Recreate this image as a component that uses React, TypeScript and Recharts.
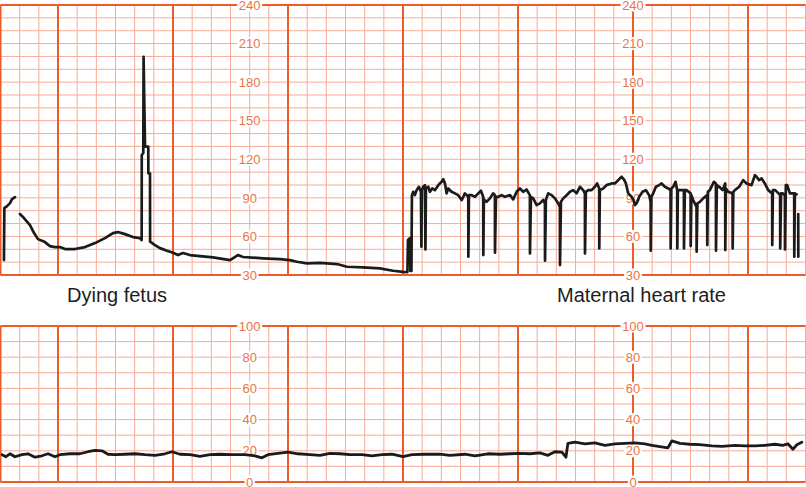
import React from 'react';
import { LineChart, Line, XAxis, YAxis, ReferenceLine, ReferenceDot } from 'recharts';

// time in seconds (one small square = 20 s), values in bpm / mmHg
const fetalTrace: [number, number | null][] = [
  [3.6, 41.6], [4.0, 82.0], [6.8, 83.6], [9.9, 85.9], [12.0, 89.0], [15.1, 90.6], [17.5, null],
  [20.3, 77.4], [24.5, 74.3], [30.8, 68.8], [35.0, 62.6], [39.1, 57.9], [46.4, 55.6], [51.6, 52.5],
  [56.9, 51.7], [62.1, 51.7], [67.3, 50.2], [77.7, 50.2], [88.2, 51.7], [98.6, 54.8], [109.0, 58.7],
  [117.4, 62.6], [122.6, 63.4], [129.9, 61.8], [138.2, 59.5], [145.5, 58.7], [147.3, 57.2],
  [147.4, 123.3], [149.0, 124.9], [149.3, 199.6], [150.8, 129.8], [154.2, 129.8], [154.3, 109.1],
  [156.0, 109.1], [156.1, 55.9], [161.2, 53.3], [166.4, 50.9], [173.7, 48.9], [180.0, 47.3],
  [185.2, 45.5], [190.4, 47.1], [197.7, 45.5], [208.1, 44.7], [221.7, 43.7], [239.5, 41.6],
  [247.8, 45.5], [253.0, 44.0], [273.9, 43.0], [291.6, 42.3], [302.0, 41.6], [309.3, 40.3],
  [319.8, 39.0], [333.3, 39.5], [351.1, 38.5], [361.5, 36.4], [378.2, 35.9], [395.9, 35.2],
  [409.5, 33.3], [420.0, 32.5], [424.6, 32.3],
];

const maternalTrace: [number, number | null][] = [
  [425.2, 57.2], [427.2, 58.7], [427.7, 33.1], [428.8, 33.1], [429.3, 92.1], [430.7, 94.7],
  [432.4, 92.1], [434.2, 96.0], [436.6, 98.6], [438.7, 94.7], [439.2, 52.0], [439.7, 96.0],
  [441.1, 98.6], [442.9, 99.9], [443.4, 49.9], [443.9, 97.3], [446.3, 98.6], [448.1, 94.7],
  [450.5, 97.3], [453.3, 96.0], [456.8, 99.9], [460.3, 102.5], [462.0, 104.6], [463.8, 101.2],
  [465.5, 93.5], [467.2, 97.3], [470.7, 94.7], [474.2, 93.5], [477.6, 92.1], [481.2, 88.3],
  [482.9, 90.8], [484.6, 93.5], [486.4, 92.1], [488.1, 90.8], [488.2, 44.2], [488.8, 92.1],
  [491.6, 92.1], [495.1, 90.8], [498.5, 93.5], [501.3, 95.5], [503.7, 90.8], [503.8, 45.5],
  [504.4, 88.8], [507.2, 86.9], [510.7, 89.6], [514.1, 93.5], [515.9, 92.1], [516.0, 47.3],
  [517.0, 90.8], [519.4, 90.8], [522.9, 92.1], [526.3, 90.8], [531.6, 92.1], [535.0, 88.8],
  [538.6, 94.7], [542.0, 97.3], [545.4, 94.7], [548.9, 96.5], [552.4, 92.1], [552.5, 46.8],
  [553.5, 90.8], [555.9, 89.6], [559.4, 84.4], [562.9, 85.7], [566.3, 88.3], [568.1, 85.7],
  [568.2, 41.1], [569.1, 88.3], [571.5, 93.5], [575.1, 92.1], [578.5, 89.6], [582.0, 85.7],
  [583.7, 83.0], [583.8, 37.7], [584.8, 86.9], [587.2, 89.6], [590.7, 92.1], [594.2, 94.7],
  [597.6, 96.0], [601.1, 93.5], [604.6, 98.6], [608.0, 96.0], [609.8, 93.5], [609.9, 46.8],
  [610.8, 94.7], [613.3, 96.0], [616.8, 96.0], [620.2, 98.6], [622.6, 101.2], [624.7, 97.3],
  [624.8, 50.7], [625.4, 96.0], [628.9, 97.3], [632.4, 99.9], [637.7, 101.2], [641.1, 101.2],
  [644.6, 103.8], [648.1, 106.4], [650.5, 104.3], [652.6, 101.2], [655.0, 93.5], [658.5, 90.8],
  [660.2, 88.8], [662.0, 84.4], [663.7, 85.7], [666.5, 90.8], [670.0, 94.7], [673.5, 96.0],
  [676.9, 92.1], [678.4, 86.9], [678.5, 48.9], [679.2, 90.8], [681.1, 93.5], [683.9, 98.6],
  [687.3, 99.9], [689.8, 101.2], [693.3, 98.6], [696.7, 97.3], [699.2, 96.0], [699.3, 50.7],
  [700.0, 97.3], [701.9, 98.6], [704.4, 102.5], [706.1, 96.0], [706.2, 50.7], [706.8, 96.0],
  [708.9, 96.0], [713.1, 96.0], [713.2, 50.7], [714.1, 96.0], [715.9, 96.0], [720.1, 93.5],
  [720.2, 52.5], [720.9, 92.1], [722.8, 88.3], [726.3, 83.0], [726.4, 48.1], [727.2, 85.7],
  [729.8, 86.9], [733.2, 89.6], [737.4, 92.1], [737.5, 53.3], [738.1, 94.7], [740.2, 96.0],
  [744.4, 102.5], [746.5, 101.2], [746.6, 48.9], [747.5, 99.9], [750.0, 98.6], [753.5, 96.0],
  [756.2, 101.2], [756.3, 49.4], [756.9, 97.3], [759.3, 94.7], [763.9, 93.5], [764.0, 50.7],
  [764.7, 94.7], [766.3, 96.0], [770.8, 98.6], [775.0, 103.8], [778.5, 101.2], [783.7, 99.9],
  [787.2, 107.7], [788.9, 106.4], [791.6, 103.8], [794.2, 105.1], [797.6, 101.2], [801.1, 96.0],
  [805.2, 93.5], [805.3, 53.3], [806.0, 96.0], [808.4, 96.0], [811.8, 93.5], [813.5, 92.1],
  [813.6, 50.7], [814.5, 93.5], [816.1, 93.5], [818.5, 92.1], [818.6, 49.9], [819.5, 99.9],
  [820.9, 99.9], [823.7, 93.5], [828.2, 93.5], [828.3, 44.2], [828.9, 93.5], [830.7, 92.7],
  [831.6, null], [832.4, 77.4], [832.5, 44.2],
];

const tocoTrace: [number, number][] = [
  [1.6, 17.5], [5.7, 16.2], [9.9, 18.1], [15.1, 16.2], [22.4, 17.5], [28.7, 18.1], [36.0, 15.9],
  [43.3, 16.8], [49.6, 18.1], [56.9, 16.2], [62.1, 17.5], [72.5, 18.1], [82.9, 18.1], [91.3, 19.4],
  [98.6, 20.3], [105.9, 20.0], [112.2, 17.8], [119.5, 17.5], [129.9, 17.8], [140.3, 18.1],
  [150.8, 17.5], [161.2, 17.1], [171.6, 18.1], [178.9, 19.4], [187.3, 17.8], [197.7, 17.5],
  [208.1, 16.5], [218.6, 17.5], [229.0, 17.8], [241.5, 17.5], [255.1, 17.5], [265.5, 16.8],
  [272.8, 15.5], [279.1, 17.5], [289.5, 18.4], [300.0, 19.2], [310.4, 18.1], [322.9, 17.5],
  [333.3, 17.1], [343.8, 18.4], [354.2, 18.1], [364.6, 17.5], [377.2, 17.5], [387.6, 16.8],
  [398.0, 17.5], [408.5, 17.8], [420.0, 16.2], [429.3, 17.5], [442.9, 17.8], [458.5, 17.8],
  [469.0, 17.1], [484.6, 17.8], [495.1, 16.8], [508.6, 18.1], [521.1, 17.8], [531.6, 18.1],
  [542.0, 18.4], [552.4, 18.1], [562.9, 18.7], [571.2, 17.1], [578.5, 19.4], [585.8, 19.1],
  [590.0, 15.9], [592.1, 24.8], [599.4, 25.5], [609.8, 24.5], [620.2, 25.1], [630.7, 23.5],
  [641.1, 24.5], [651.6, 24.8], [662.0, 25.1], [672.4, 24.5], [679.7, 23.5], [696.4, 21.9],
  [700.6, 26.4], [709.0, 24.8], [719.4, 24.2], [729.8, 23.9], [742.3, 23.2], [752.8, 22.9],
  [766.3, 23.5], [776.7, 23.2], [787.2, 23.2], [797.6, 23.5], [808.0, 24.2], [816.4, 23.5],
  [821.6, 24.5], [826.9, 21.0], [831.0, 23.9], [836.2, 25.5],
];

const minorTimes = Array.from({ length: 43 }, (_, i) => i * 20);
const majorTimes = [0, 60, 180, 300, 420, 540, 660, 780];
const labelTimes = [260, 660];
const hrGrid = Array.from({ length: 22 }, (_, i) => 30 + i * 10);
const hrLabels = [240, 210, 180, 150, 120, 90, 60, 30];
const hrBorders = [30, 240];
const uaGrid = Array.from({ length: 11 }, (_, i) => i * 10);
const uaLabels = [100, 80, 60, 40, 20, 0];
const uaBorders = [0, 100];

const THIN = '#f8ab95';
const THICK = '#ee5b2b';
const LABEL = '#ea7446';
const TRACE = '#1b1b1b';
const FONT = '"Liberation Sans", Arial, Helvetica, sans-serif';

const hrData = [...fetalTrace, ...maternalTrace].map(([t, v]) => ({ t, v }));
const uaData = tocoTrace.map(([t, v]) => ({ t, v }));

function TickLabel(props: any) {
  const { cx, cy, label } = props;
  if (cx == null || cy == null) return null;
  const s = String(label);
  const w = s.length * 7.3 + 3;
  return (
    <g>
      <rect x={cx - w / 2} y={cy - 6.5} width={w} height={13} fill="#ffffff" />
      <text x={cx} y={cy} dy="0.36em" textAnchor="middle" fontSize={13} fontFamily={FONT} fill={LABEL}>
        {s}
      </text>
    </g>
  );
}

function gridElements(hGrid: number[], hBorders: number[], labels: number[], prefix: string) {
  const els: React.ReactNode[] = [];
  hGrid.forEach((v) => {
    els.push(<ReferenceLine key={`${prefix}h${v}`} y={v} stroke={THIN} strokeWidth={1} ifOverflow="visible" />);
  });
  minorTimes.forEach((t) => {
    els.push(<ReferenceLine key={`${prefix}v${t}`} x={t} stroke={THIN} strokeWidth={1} ifOverflow="visible" />);
  });
  majorTimes.forEach((t) => {
    els.push(<ReferenceLine key={`${prefix}V${t}`} x={t} stroke={THICK} strokeWidth={2} ifOverflow="visible" />);
  });
  hBorders.forEach((v) => {
    els.push(<ReferenceLine key={`${prefix}H${v}`} y={v} stroke={THICK} strokeWidth={2} ifOverflow="visible" />);
  });
  labelTimes.forEach((t) => {
    labels.forEach((v) => {
      els.push(
        <ReferenceDot
          key={`${prefix}l${t}-${v}`}
          x={t}
          y={v}
          r={0}
          ifOverflow="visible"
          shape={(p: any) => <TickLabel {...p} label={v} />}
        />
      );
    });
  });
  return els;
}

type PanelProps = {
  top: number;
  height: number;
  margin: { top: number; right: number; bottom: number; left: number };
  data: { t: number; v: number | null }[];
  domain: [number, number];
  hGrid: number[];
  hBorders: number[];
  labels: number[];
  prefix: string;
  strokeWidth: number;
};

function Panel({ top, height, margin, data, domain, hGrid, hBorders, labels, prefix, strokeWidth }: PanelProps) {
  return (
    <>
      <div style={{ position: 'absolute', left: 0, top }}>
        <LineChart width={806} height={height} data={data} margin={margin}>
          <XAxis type="number" dataKey="t" domain={[0, 840]} hide allowDataOverflow />
          <YAxis type="number" domain={domain} hide allowDataOverflow />
          {gridElements(hGrid, hBorders, labels, prefix)}
        </LineChart>
      </div>
      <div style={{ position: 'absolute', left: 0, top }}>
        <LineChart width={806} height={height} data={data} margin={margin}>
          <XAxis type="number" dataKey="t" domain={[0, 840]} hide allowDataOverflow />
          <YAxis type="number" domain={domain} hide allowDataOverflow />
          <Line
            type="linear"
            dataKey="v"
            stroke={TRACE}
            strokeWidth={strokeWidth}
            dot={false}
            activeDot={false}
            isAnimationActive={false}
            strokeLinejoin="round"
            strokeLinecap="round"
          />
        </LineChart>
      </div>
    </>
  );
}

export default function App() {
  return (
    <div style={{ position: 'absolute', left: 0, top: 0, width: 806, height: 487, background: '#fff', overflow: 'hidden' }}>
      <Panel
        top={0}
        height={282}
        margin={{ top: 5, right: 0.5, bottom: 7, left: 0.5 }}
        data={hrData}
        domain={[30, 240]}
        hGrid={hrGrid}
        hBorders={hrBorders}
        labels={hrLabels}
        prefix="hr"
        strokeWidth={2.7}
      />
      <Panel
        top={312}
        height={175}
        margin={{ top: 14, right: 0.5, bottom: 5, left: 0.5 }}
        data={uaData}
        domain={[0, 100]}
        hGrid={uaGrid}
        hBorders={uaBorders}
        labels={uaLabels}
        prefix="ua"
        strokeWidth={2.8}
      />
      <svg style={{ position: 'absolute', left: 0, top: 280 }} width={806} height={32}>
        <text x={67} y={22} fontSize={20} fontFamily={FONT} fill="#1e1e1e">Dying fetus</text>
        <text x={557} y={22} fontSize={20} fontFamily={FONT} fill="#1e1e1e">Maternal heart rate</text>
      </svg>
    </div>
  );
}
